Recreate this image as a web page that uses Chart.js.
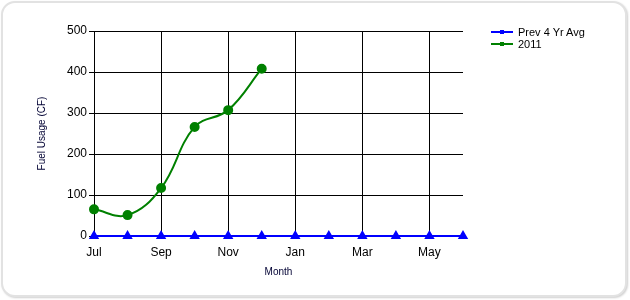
<!DOCTYPE html>
<html>
<head>
<meta charset="utf-8">
<script src="https://cdn.jsdelivr.net/npm/chart.js@4/dist/chart.umd.min.js"></script>
<style>
  html, body { margin: 0; padding: 0; background: #fff; }
  #wrap { position: relative; width: 630px; height: 300px; }
  #frame {
    position: absolute; left: 1px; top: 1px; width: 622px; height: 292px;
    border: 2px solid #e2e2e2; border-radius: 14px;
    box-shadow: 1px 1px 2px #d0d0d0; background: #fff;
  }
  canvas { position: absolute; left: 0; top: 0; }
  #legend {
    position: absolute; left: 491px; top: 26px;
    font: 11px "Liberation Sans", Arial, sans-serif; color: #000;
  }
  .item { height: 12px; line-height: 12px; white-space: nowrap; }
  .sw { display: inline-block; position: relative; width: 22px; height: 12px; vertical-align: top; margin-right: 5px; }
  .sw i { position: absolute; left: 0; top: 5px; width: 22px; height: 2px; }
  .sw b { position: absolute; left: 9px; top: 4px; width: 4px; height: 4px; }
</style>
</head>
<body>
<div id="wrap">
  <div id="frame"></div>
  <canvas id="chart" width="630" height="300"></canvas>
  <div id="legend"></div>
</div>
<script>
// months of the fuel year, Jul..Jun
const months = ['Jul', 'Aug', 'Sep', 'Oct', 'Nov', 'Dec', 'Jan', 'Feb', 'Mar', 'Apr', 'May', 'Jun'];
const prevAvg = [0, 0, 0, 0, 0, 0, 0, 0, 0, 0, 0, 0];
const usage2011 = [65, 51, 117, 266, 307, 408];
const yTicks = [0, 100, 200, 300, 400, 500];

const BLUE = '#0000ff';
const GREEN = '#008000';

const ctx = document.getElementById('chart');
new Chart(ctx, {
  type: 'line',
  data: {
    labels: months,
    datasets: [
      {
        label: 'Prev 4 Yr Avg',
        data: prevAvg,
        borderColor: BLUE,
        backgroundColor: BLUE,
        borderWidth: 2,
        pointStyle: 'triangle',
        pointRadius: 4,
        tension: 0,
      },
      {
        label: '2011',
        data: usage2011,
        borderColor: GREEN,
        backgroundColor: GREEN,
        borderWidth: 2,
        pointStyle: 'circle',
        pointRadius: 4,
        tension: 0.4,
      },
    ],
  },
  options: {
    responsive: false,
    animation: false,
    clip: false,
    layout: { padding: { left: 0, top: 31, right: 167, bottom: 0 } },
    plugins: { legend: { display: false }, tooltip: { enabled: false } },
    scales: {
      x: {
        offset: false,
        grid: {
          color: (c) => (c.index % 2 === 0 ? '#000' : 'rgba(0,0,0,0)'),
          drawTicks: false,
          lineWidth: 1,
        },
        border: { display: true, color: '#000' },
        ticks: {
          autoSkip: false,
          maxRotation: 0,
          padding: 9,
          color: '#000',
          font: { family: '"Liberation Sans", Arial, sans-serif', size: 12 },
          callback: (v, i) => (i % 2 === 0 ? months[i] : ''),
        },
        title: {
          display: true,
          text: 'Month',
          color: '#000033',
          font: { family: '"Liberation Sans", Arial, sans-serif', size: 10 },
          padding: { top: 0, bottom: 22 },
        },
        afterFit: (s) => { s.height = 64; },
      },
      y: {
        min: 0,
        max: 500,
        afterBuildTicks: (s) => { s.ticks = yTicks.map((v) => ({ value: v })); },
        grid: { color: '#000', tickLength: 5, lineWidth: 1 },
        border: { display: true, color: '#000' },
        ticks: {
          padding: 2,
          color: '#000',
          font: { family: '"Liberation Sans", Arial, sans-serif', size: 12 },
        },
        title: {
          display: true,
          text: 'Fuel Usage (CF)',
          color: '#000033',
          font: { family: '"Liberation Sans", Arial, sans-serif', size: 10 },
          padding: { top: 36, bottom: 0 },
        },
        afterFit: (s) => { s.width = 94; },
      },
    },
  },
});

// legend drawn as html, same look as the original
const legend = document.getElementById('legend');
[['Prev 4 Yr Avg', BLUE], ['2011', GREEN]].forEach(([name, col]) => {
  const d = document.createElement('div');
  d.className = 'item';
  d.innerHTML = '<span class="sw"><i style="background:' + col + '"></i><b style="background:' + col + '"></b></span>' + name;
  legend.appendChild(d);
});
</script>
</body>
</html>
